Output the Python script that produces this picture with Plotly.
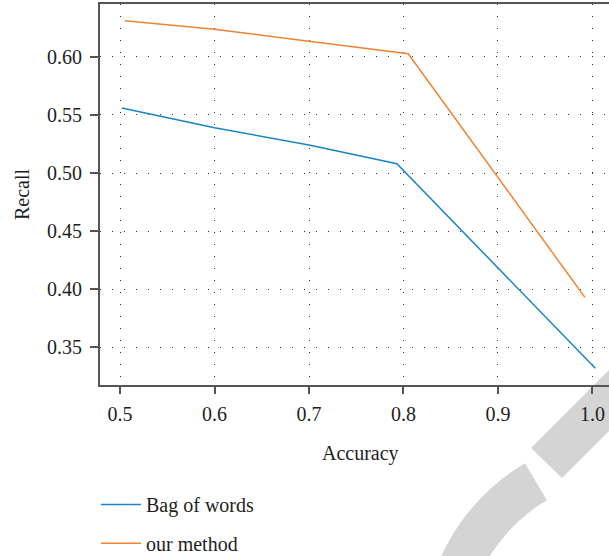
import numpy as np
import plotly.graph_objects as go

# ---- data ----
bow_x = [0.502, 0.600, 0.700, 0.793, 1.003]
bow_y = [0.556, 0.539, 0.524, 0.508, 0.332]
our_x = [0.505, 0.600, 0.700, 0.805, 0.992]
our_y = [0.631, 0.6236, 0.6133, 0.6026, 0.393]
series_names = ["Bag of words", "our method"]
x_ticks = [0.5, 0.6, 0.7, 0.8, 0.9, 1.0]
y_ticks = [0.35, 0.40, 0.45, 0.50, 0.55, 0.60]

W, H = 609, 556
ML, MR, MT, MB = 100, 0, 4, 171
PW, PH = W - ML - MR, H - MT - MB

def px(x):
    return (x - ML) / PW

def py(y):
    return (H - MB - y) / PH

FONT = "Liberation Serif, Times New Roman, serif"
TXT = "#1e1e1e"
AX = "#555555"
BLUE = "#1885c6"
ORANGE = "#f08231"

fig = go.Figure()
fig.add_trace(go.Scatter(x=bow_x, y=bow_y, mode="lines", name=series_names[0],
                         line=dict(color=BLUE, width=1.5), legend="legend"))
fig.add_trace(go.Scatter(x=our_x, y=our_y, mode="lines", name=series_names[1],
                         line=dict(color=ORANGE, width=1.5), legend="legend2"))

# watermark (decorative, pixel geometry)
def to_path(pts):
    s = "M " + " L ".join(f"{px(a):.5f},{py(b):.5f}" for a, b in pts) + " Z"
    return s

band = [(531, 448), (700, 279), (731, 309), (562, 478)]
cx, cy, R, r = 633.5, 645.3, 212, 169
ang = np.radians(np.linspace(175, 239.2, 40))
outer = [(cx + R * np.cos(a), cy + R * np.sin(a)) for a in ang]
inner = [(cx + r * np.cos(a), cy + r * np.sin(a)) for a in ang[::-1]]
arc = outer + inner
for poly in (band, arc):
    fig.add_shape(type="path", path=to_path(poly), xref="paper", yref="paper",
                  fillcolor="#d4d4d4", line=dict(width=0), layer="below")

fig.add_annotation(text="Accuracy", x=px(360), y=py(453), xref="paper", yref="paper",
                   showarrow=False, font=dict(family=FONT, size=20, color=TXT),
                   xanchor="center", yanchor="middle")

grid = dict(showgrid=True, gridcolor="#333333", gridwidth=1, griddash="1px,11px")
fig.update_xaxes(range=[0.4788, 1.0175], tickvals=x_ticks, tickformat=".1f",
                 showline=True, linecolor=AX, linewidth=2, mirror=True,
                 ticks="outside", ticklen=7, tickwidth=1.5, tickcolor=AX,
                 ticklabelstandoff=3,
                 zeroline=False, tickfont=dict(family=FONT, size=20, color=TXT), **grid)
fig.update_yaxes(range=[0.3176, 0.6454], tickvals=y_ticks, tickformat=".2f",
                 showline=True, linecolor=AX, linewidth=2,
                 ticks="outside", ticklen=8, tickwidth=1.5, tickcolor=AX,
                 ticklabelstandoff=4,
                 zeroline=False, tickfont=dict(family=FONT, size=20, color=TXT),
                 title=dict(text="Recall", font=dict(family=FONT, size=20, color=TXT), standoff=12),
                 **grid)

leg = dict(font=dict(family=FONT, size=20, color=TXT), bgcolor="rgba(0,0,0,0)",
           xanchor="left", yanchor="middle", itemwidth=40, borderwidth=0)
fig.update_layout(
    width=W, height=H, margin=dict(l=ML, r=MR, t=MT, b=MB, autoexpand=False),
    paper_bgcolor="white", plot_bgcolor="rgba(0,0,0,0)",
    legend=dict(x=px(96), y=py(504.5), **leg),
    legend2=dict(x=px(96), y=py(543.3), **leg),
    showlegend=True,
)
fig.write_html("out.html")
